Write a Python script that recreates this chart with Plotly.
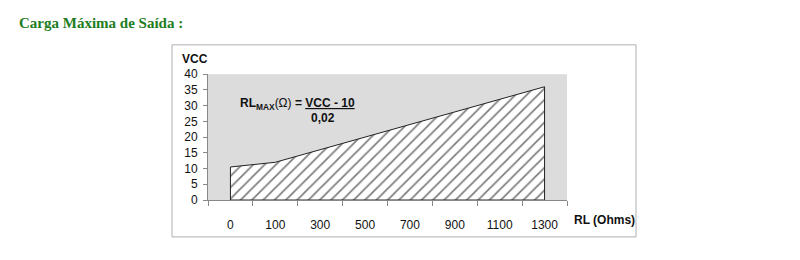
import plotly.graph_objects as go

categories = ["0", "100", "300", "500", "700", "900", "1100", "1300"]
vcc = [10.5, 12, 16, 20, 24, 28, 32, 36]
y_ticks = [0, 5, 10, 15, 20, 25, 30, 35, 40]

W, H = 800, 260
def px(x):
    return x / W
def py(y):
    return 1 - y / H

# closed polygon built from the data arrays
poly_x = [categories[0]] + categories + [categories[-1], categories[0]]
poly_y = [0] + vcc + [0, 0]

fig = go.Figure()
fig.add_trace(go.Scatter(
    x=poly_x, y=poly_y, mode="lines", fill="toself",
    line=dict(color="#222222", width=1),
    fillcolor="white",
    fillpattern=dict(shape="/", fgcolor="#000000", bgcolor="white", size=8, solidity=0.22),
    hoverinfo="skip", showlegend=False,
))

axis_font = dict(family="Liberation Sans, Arial, sans-serif", size=12, color="#111111")
fig.update_layout(
    width=W, height=H,
    margin=dict(l=0, r=0, t=0, b=0),
    paper_bgcolor="white",
    plot_bgcolor="#dcdcdc",
    xaxis=dict(
        type="category", categoryorder="array", categoryarray=categories,
        range=[-0.5, len(categories) - 0.5],
        domain=[px(208), px(567)],
        tickson="boundaries", ticks="outside", ticklen=5, tickcolor="#888888",
        showline=True, linecolor="#888888", linewidth=1,
        showgrid=False, zeroline=False, tickfont=axis_font, ticklabelstandoff=14,
        fixedrange=True,
    ),
    yaxis=dict(
        range=[0, 40], tickvals=y_ticks,
        domain=[py(204), py(71)],
        ticks="outside", ticklen=4, tickcolor="#888888",
        showline=True, linecolor="#888888", linewidth=1,
        showgrid=False, zeroline=False, tickfont=axis_font, ticklabelstandoff=3,
        fixedrange=True,
    ),
    font=axis_font,
)

# outer chart frame
fig.add_shape(type="rect", xref="paper", yref="paper",
              x0=px(172), x1=px(636), y0=py(243), y1=py(40),
              line=dict(color="#b0b0b0", width=1), fillcolor="rgba(0,0,0,0)", layer="below")

# title
fig.add_annotation(text="<b>Carga Máxima de Saída :</b>", xref="paper", yref="paper",
                   x=px(17), y=py(17), xanchor="left", yanchor="middle", showarrow=False,
                   font=dict(family="Liberation Serif, Times New Roman, serif", size=15, color="#1e7d1e"))

# axis titles
fig.add_annotation(text="<b>VCC</b>", xref="paper", yref="paper",
                   x=px(180), y=py(55), xanchor="left", yanchor="middle", showarrow=False,
                   font=dict(family="Liberation Sans, Arial, sans-serif", size=12, color="#111111"))
fig.add_annotation(text="<b>RL (Ohms)</b>", xref="paper", yref="paper",
                   x=px(572), y=py(225), xanchor="left", yanchor="middle", showarrow=False,
                   font=dict(family="Liberation Sans, Arial, sans-serif", size=12, color="#111111"))

# formula
fig.add_annotation(text="<b>RL<sub>MAX</sub></b>(Ω) <b>= <u>VCC - 10</u></b>", xref="paper", yref="paper",
                   x=px(238), y=py(102), xanchor="left", yanchor="middle", showarrow=False,
                   font=dict(family="Liberation Sans, Arial, sans-serif", size=12, color="#111111"))
fig.add_annotation(text="<b>0,02</b>", xref="paper", yref="paper",
                   x=px(309), y=py(117), xanchor="left", yanchor="middle", showarrow=False,
                   font=dict(family="Liberation Sans, Arial, sans-serif", size=12, color="#111111"))

fig.write_html("out.html")
